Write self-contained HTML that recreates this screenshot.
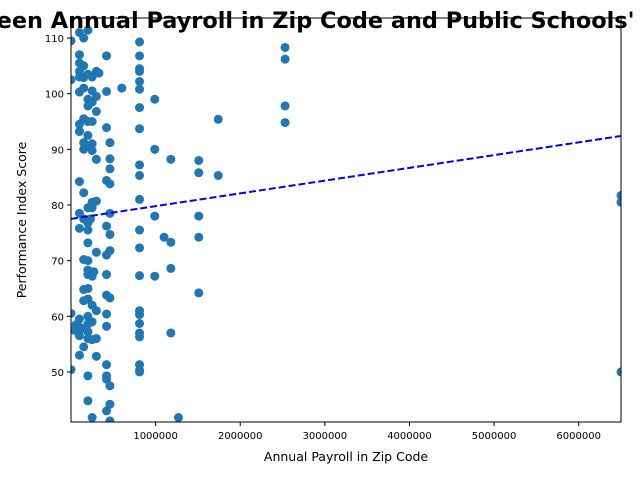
<!DOCTYPE html>
<html><head><meta charset="utf-8"><style>body{margin:0;background:#fff}svg{display:block}text{font-family:"DejaVu Sans","Liberation Sans",sans-serif}</style></head>
<body>
<svg id="chart" width="640" height="480" xmlns="http://www.w3.org/2000/svg">
<g id="marks"></g>
<g id="axes"></g>
<text x="-67" y="28" font-size="22.4" font-weight="bold">Between Annual Payroll in Zip Code and Public Schools' Performance Index</text>
<text x="346" y="461" font-size="12.5" text-anchor="middle">Annual Payroll in Zip Code</text>
<text transform="translate(26,220) rotate(-90)" font-size="12.5" text-anchor="middle">Performance Index Score</text>
</svg>
<script>
const payrollK = [810,810,810,810,810,810,810,810,810,810,810,810,810,810,810,810,810,810,810,810,810,810,
990,990,990,990,1180,1180,1180,1180,1100,1510,1510,1510,1510,1510,1740,1740,2530,2530,2530,2530,1270,6500,6500,6500,600,
420,420,420,420,420,420,420,420,420,420,420,420,420,420,
460,460,460,460,460,460,460,460,460,460,460,
300,300,300,300,300,300,300,300,300,
0,0,0,0,
100,100,100,100,100,100,100,100,100,100,100,100,100,100,100,
150,150,150,150,150,150,150,150,150,150,150,150,150,150,
200,200,200,200,200,200,200,200,200,200,200,200,200,200,200,200,200,200,200,200,200,200,
250,250,250,250,250,250,250,250,250,250,250,250,250,330,40,60,230,270];
const scores = [109.3,106.8,104.5,104,102.2,100.8,97.5,93.7,87.2,85.3,81,75.5,72.3,67.3,61,60.3,58.7,57,56.3,51.3,50.3,50,
99,90,78,67.2,88.2,73.3,68.6,57,74.2,88,85.8,78,74.2,64.2,95.4,85.3,108.3,106.2,97.8,94.8,41.8,81.7,80.5,50,101,
106.8,100.4,93.9,84.4,76.2,71,67.5,63.8,60.4,58.2,51.3,49.3,48.7,43,
91.2,88.3,86.5,83.8,78.5,74.7,71.8,63.3,47.5,44.2,41.2,
104,99.5,96.8,88.2,80.7,71.5,61,56,52.8,
109.5,102.5,60.5,50.4,
111,107,105.5,104,103,100.3,94.5,93.2,84.2,78.5,75.8,59.5,58,56.5,53,
110,105,102.9,101,95.5,91.2,90,82.2,77.5,70.2,64.8,62.8,57.8,54.5,
111.4,103.5,99,97.8,95,92.5,90.5,79.5,76.8,75.5,73.2,70,68.3,67.5,65,63.1,60,58.6,57.2,56,49.3,44.8,
103,100.5,98.5,95,91,89.8,80.5,79.5,67.2,62,59,55.8,41.8,103.7,57.5,58.5,77.5,68];
const trendStart = 77.5, trendEnd = 92.4;
const xTicks = [1000000,2000000,3000000,4000000,5000000,6000000];
const yTicks = [50,60,70,80,90,100,110];
const L=71,R=621,T=18,B=422,XMAX=6500000,YMIN=41,YMAX=113.6;
const sx=v=>L+(v/XMAX)*(R-L);
const sy=v=>B-(v-YMIN)/(YMAX-YMIN)*(B-T);
const NS="http://www.w3.org/2000/svg";
const marks=document.getElementById('marks'),axes=document.getElementById('axes');
function mk(tag,attrs,parent){const e=document.createElementNS(NS,tag);for(const k in attrs)e.setAttribute(k,attrs[k]);parent.appendChild(e);return e;}
const clip=mk('clipPath',{id:'pc'},marks);mk('rect',{x:L,y:T,width:R-L,height:B-T},clip);
const g=mk('g',{'clip-path':'url(#pc)'},marks);
payrollK.forEach((p,i)=>{const c=mk('circle',{cx:sx(p*1000),cy:sy(scores[i]),r:4.5,fill:'#1f77b4'},g);

});
const tl=mk('line',{x1:sx(0),y1:sy(trendStart),x2:sx(XMAX),y2:sy(trendEnd),stroke:'#0000ff','stroke-width':2,'stroke-dasharray':'7,3'},g);


const fr=mk('rect',{x:L,y:T,width:R-L,height:B-T,fill:'none',stroke:'#000','stroke-width':1},axes);


xTicks.forEach(v=>{const x=sx(v);mk('line',{x1:x,y1:B,x2:x,y2:B+4,stroke:'#000'},axes);
const t=mk('text',{x:x,y:B+17,'font-size':10,'text-anchor':'middle'},axes);t.textContent=v;

});
yTicks.forEach(v=>{const y=sy(v);mk('line',{x1:L-4,y1:y,x2:L,y2:y,stroke:'#000'},axes);
const t=mk('text',{x:L-7,y:y+4,'font-size':10,'text-anchor':'end'},axes);t.textContent=v;

});
</script>
</body></html>
